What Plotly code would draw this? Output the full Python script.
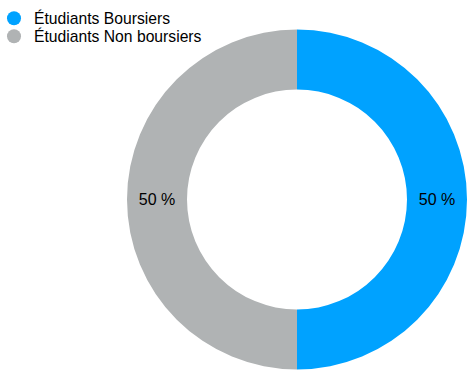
import plotly.graph_objects as go

categories = ["Étudiants Boursiers", "Étudiants Non boursiers"]
values = [50, 50]
colors = ["#00A2FF", "#B0B3B4"]

W, H = 467, 370
FONT = "Liberation Sans, Arial, Helvetica, sans-serif"

fig = go.Figure()

fig.add_trace(go.Pie(
    labels=categories,
    values=values,
    sort=False,
    direction="clockwise",
    rotation=0,
    hole=0.647,
    marker=dict(colors=colors, line=dict(width=0)),
    texttemplate="%{value} %",
    textposition="inside",
    insidetextorientation="horizontal",
    textfont=dict(family=FONT, size=16, color="#000000"),
    showlegend=False,
    hoverinfo="label+percent",
    domain=dict(x=[127.0 / W, 1.0], y=[0.5 / H, 340.5 / H]),
))

# one legend per entry so each row can be placed on its own
legend_names = ["legend", "legend2"]
legend_rows = [18.5, 36.5]  # row centres, px from top
for name, col, lg in zip(categories, colors, legend_names):
    fig.add_trace(go.Scatter(
        x=[None], y=[None], mode="markers", name=name,
        marker=dict(symbol="circle", size=14, color=col),
        showlegend=True, legend=lg,
    ))

legend_style = dict(
    x=-6.0 / W, xanchor="left", yanchor="middle",
    font=dict(family=FONT, size=15.7, color="#000000"),
    itemsizing="trace",
    bgcolor="rgba(0,0,0,0)",
)

fig.update_layout(
    width=W, height=H,
    margin=dict(l=0, r=0, t=0, b=0, autoexpand=False),
    paper_bgcolor="white",
    plot_bgcolor="white",
    xaxis=dict(visible=False),
    yaxis=dict(visible=False),
    legend=dict(y=1 - legend_rows[0] / H, **legend_style),
    legend2=dict(y=1 - legend_rows[1] / H, **legend_style),
)

fig.write_html("out.html")
